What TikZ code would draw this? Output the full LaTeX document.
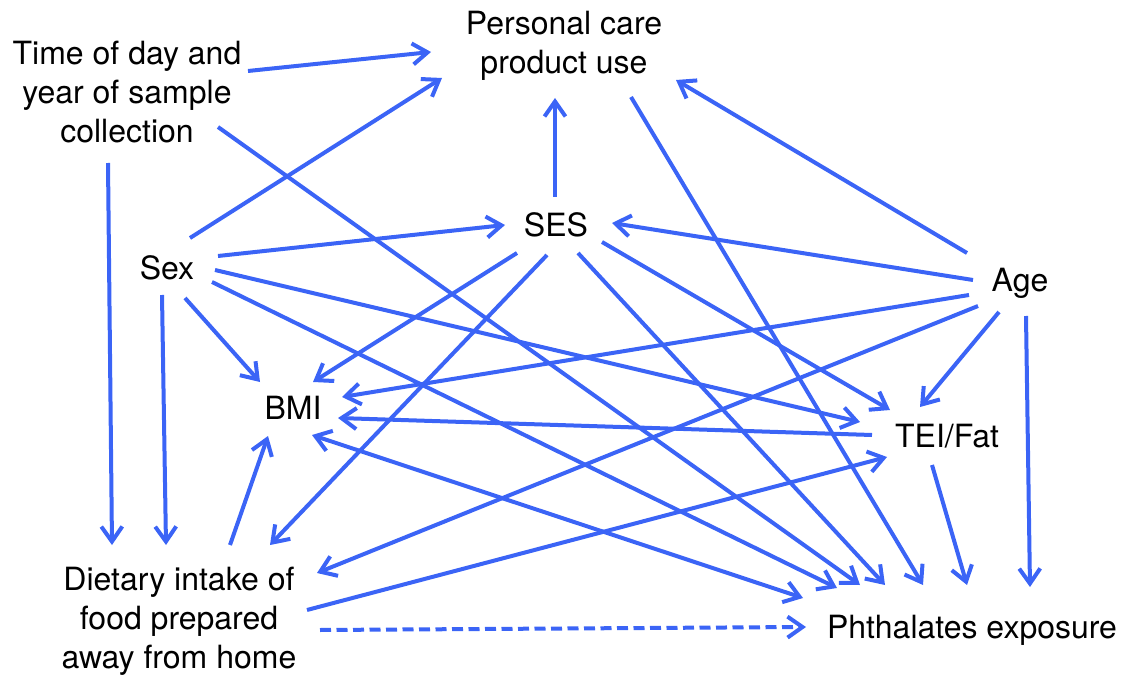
\documentclass[tikz,border=0pt]{standalone}
\usepackage{fontspec}
\setmainfont{TeX Gyre Heros}
\usetikzlibrary{arrows.meta,calc}
\definecolor{edgeblue}{RGB}{59,100,246}
\begin{document}
\begin{tikzpicture}[x=1pt,y=-1pt,
  lbl/.style={font=\fontsize{32}{39}\selectfont, inner sep=0pt, align=center, anchor=base},
  tipv/.tip={Straight Barb[length=15pt,width=21pt]},
  conn/.style={draw=edgeblue, line width=4pt, -tipv},
  both/.style={draw=edgeblue, line width=4pt, tipv-tipv},
  dashconn/.style={conn, dash pattern=on 11pt off 5.5pt}]
\useasboundingbox (0,0) rectangle (1127,676);
% nodes (base = baseline of last line)
\node[lbl] (time) at (127,143) {Time of day and\\year of sample\\collection};
\node[lbl] (pcp)  at (564,74) {Personal care\\product use};
\node[lbl] (ses)  at (556,237) {SES};
\node[lbl] (sex)  at (167,280) {Sex};
\node[lbl] (age)  at (1020,292) {Age};
\node[lbl] (bmi)  at (293,419) {BMI};
\node[lbl] (tei)  at (947,447) {TEI/Fat};
\node[lbl] (diet) at (179,668) {Dietary intake of\\food prepared\\away from home};
\node[lbl] (phth) at (972,638) {Phthalates exposure};
% connectors
\draw[conn] ($(time.base)+(121,-72)$) -- ($(pcp.base)+(-133,-22)$);
\draw[conn] ($(sex.base)+(23,-42)$) -- ($(pcp.base)+(-122,4)$);
\draw[conn] ($(ses.base)+(-1,-40)$) -- ($(pcp.base)+(-9,24)$);
\draw[conn] ($(age.base)+(-53,-39)$) -- ($(pcp.base)+(112,6)$);
\draw[conn] ($(time.base)+(-19,20)$) -- ($(diet.base)+(-67,-123)$);
\draw[conn] ($(sex.base)+(-5,15)$) -- ($(diet.base)+(-13,-123)$);
\draw[conn] ($(time.base)+(91,-16)$) -- ($(phth.base)+(-112,-53)$);
\draw[conn] ($(sex.base)+(51,-24)$) -- ($(ses.base)+(-51,-12)$);
\draw[conn] ($(age.base)+(-47,-12)$) -- ($(ses.base)+(56,-14)$);
\draw[conn] ($(sex.base)+(18,18)$) -- ($(bmi.base)+(-33,-37)$);
\draw[conn] ($(sex.base)+(48,-10)$) -- ($(tei.base)+(-87,-25)$);
\draw[conn] ($(sex.base)+(45,2)$) -- ($(phth.base)+(-135,-50)$);
\draw[conn] ($(ses.base)+(-39,16)$) -- ($(bmi.base)+(20,-37)$);
\draw[conn] ($(ses.base)+(-9,18)$) -- ($(diet.base)+(91,-123)$);
\draw[conn] ($(ses.base)+(22,16)$) -- ($(phth.base)+(-87,-53)$);
\draw[conn] ($(ses.base)+(46,5)$) -- ($(tei.base)+(-57,-37)$);
\draw[conn] ($(pcp.base)+(67,23)$) -- ($(phth.base)+(-49,-53)$);
\draw[conn] ($(age.base)+(-51,3)$) -- ($(bmi.base)+(49,-22)$);
\draw[conn] ($(age.base)+(-42,14)$) -- ($(diet.base)+(138,-95)$);
\draw[conn] ($(age.base)+(-21,20)$) -- ($(tei.base)+(-27,-40)$);
\draw[conn] ($(age.base)+(6,24)$) -- ($(phth.base)+(58,-51)$);
\draw[conn] ($(tei.base)+(-75,-12)$) -- ($(bmi.base)+(45,-1)$);
\draw[conn] ($(tei.base)+(-15,18)$) -- ($(phth.base)+(-5,-53)$);
\draw[both] ($(bmi.base)+(19,16)$) -- ($(phth.base)+(-169,-40)$);
\draw[conn] ($(diet.base)+(51,-123)$) -- ($(bmi.base)+(-25,17)$);
\draw[conn] ($(diet.base)+(128,-58)$) -- ($(tei.base)+(-60,10)$);
\draw[dashconn] ($(diet.base)+(141,-38)$) -- ($(phth.base)+(-166,-11)$);
\end{tikzpicture}
\end{document}
